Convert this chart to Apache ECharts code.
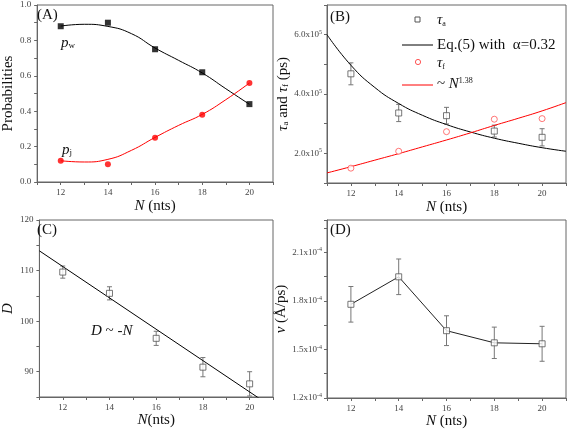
<!DOCTYPE html>
<html><head><meta charset="utf-8">
<script src="https://cdn.jsdelivr.net/npm/echarts@6/dist/echarts.min.js"></script>
<style>html,body{margin:0;padding:0;background:#fff}#c{width:569px;height:435px}</style>
</head><body><div id="c"></div>
<script>
// ---- data ----
const nVals = [12, 14, 16, 18, 20];
// (A)
const pW = [0.88, 0.90, 0.75, 0.62, 0.44];
const pJ = [0.12, 0.10, 0.25, 0.38, 0.56];
const fitN = [12, 13, 14, 15, 16, 17, 18, 19, 20];
const pWFit = [0.881, 0.891, 0.879, 0.838, 0.757, 0.687, 0.616, 0.527, 0.439];
const pJFit = [0.120, 0.113, 0.128, 0.179, 0.252, 0.320, 0.382, 0.465, 0.559];
// (B)
const tauA = [4.68e5, 3.36e5, 3.27e5, 2.75e5, 2.54e5];
const tauAErr = [0.37e5, 0.29e5, 0.28e5, 0.20e5, 0.29e5];
const tauF = [1.50e5, 2.07e5, 2.73e5, 3.15e5, 3.17e5];
const curveN = [11, 12, 13, 14, 15, 16, 17, 18, 19, 20, 21];
const eq5Fit = [6.00e5, 4.97e5, 4.22e5, 3.68e5, 3.28e5, 2.97e5, 2.72e5, 2.51e5, 2.34e5, 2.19e5, 2.07e5];
const powFit = [1.34e5, 1.55e5, 1.77e5, 1.99e5, 2.22e5, 2.45e5, 2.69e5, 2.94e5, 3.18e5, 3.43e5, 3.71e5];
// (C)
const dVals = [109.7, 105.5, 96.6, 90.9, 87.6];
const dErr = [1.2, 1.3, 1.4, 1.9, 2.4];
const dLineN = [11, 21];
const dLine = [113.9, 82.9];
// (D)
const vVals = [1.779e-4, 1.949e-4, 1.616e-4, 1.541e-4, 1.535e-4];
const vErr = [0.11e-4, 0.11e-4, 0.092e-4, 0.097e-4, 0.108e-4];

// ---- chart ----
const SERIF = "'Liberation Serif', 'Times New Roman', serif";
const AX = '#666';
const LBL = '#444';
const TXT = '#111';
const chart = echarts.init(document.getElementById('c'), null, {renderer: 'canvas'});

const grids = [
  {left: 35, top: 5, width: 238, height: 177},
  {left: 327, top: 5, width: 239, height: 178},
  {left: 35, top: 220, width: 238, height: 177},
  {left: 327, top: 220, width: 239, height: 178}
].map(g => Object.assign(g, {show: true, borderColor: AX, borderWidth: 1, backgroundColor: 'transparent'}));

const richBase = {
  i: {fontFamily: SERIF, fontStyle: 'italic', fontSize: 15, color: TXT},
  r: {fontFamily: SERIF, fontSize: 15, color: TXT},
  sub: {fontFamily: SERIF, fontSize: 9, color: TXT, verticalAlign: 'bottom', padding: [6, 0, 0, 0]},
  sup: {fontFamily: SERIF, fontSize: 9, color: TXT, verticalAlign: 'top', padding: [0, 0, 6, 0]}
};
const tickRich = {
  b: {fontFamily: SERIF, fontSize: 9, color: LBL},
  s: {fontFamily: SERIF, fontSize: 6, color: LBL, verticalAlign: 'top', padding: [0, 0, 5, 0]}
};

function xAx(gi, name, gap) {
  return {
    type: 'value', gridIndex: gi, min: 11, max: 21, interval: 1,
    name: name, nameLocation: 'middle', nameGap: gap,
    nameTextStyle: {rich: richBase, fontFamily: SERIF, fontSize: 15, color: TXT},
    axisLine: {show: true, onZero: false, lineStyle: {color: AX}},
    axisTick: {show: true, inside: false, length: 3, lineStyle: {color: AX}},
    splitLine: {show: false},
    axisLabel: {interval: 0, margin: 6, fontFamily: SERIF, fontSize: 9, color: LBL,
      formatter: v => (Math.round(v) % 2 === 0 ? String(Math.round(v)) : '')}
  };
}
function yAx(gi, opts) {
  return Object.assign({
    type: 'value', gridIndex: gi, nameLocation: 'middle', nameRotate: 90,
    nameTextStyle: {rich: richBase, fontFamily: SERIF, fontSize: 15, color: TXT},
    axisLine: {show: true, onZero: false, lineStyle: {color: AX}},
    axisTick: {show: true, inside: false, length: 3, lineStyle: {color: AX}},
    splitLine: {show: false}
  }, opts);
}

const yAxes = [
  yAx(0, {min: 0, max: 1, interval: 0.1, name: '{r|Probabilities}', nameGap: 18,
    axisLabel: {margin: 6, fontFamily: SERIF, fontSize: 9, color: LBL,
      formatter: v => { const k = Math.round(v * 10); return k % 2 === 0 ? (k / 10).toFixed(1) : ''; }}}),
  yAx(1, {min: 1e5, max: 7e5, interval: 1e5, nameGap: 33,
    name: '{i|τ}{sub|a}{r| and }{i|τ}{sub|f}{r| (ps)}',
    axisLabel: {margin: 5, rich: tickRich, formatter: v => { const k = Math.round(v / 1e5); return (k === 2 || k === 4 || k === 6) ? '{b|' + k + '.0x10}{s|5}' : ''; }}}),
  yAx(2, {min: 85, max: 120, interval: 5, name: '{i|D}', nameGap: 20,
    axisLabel: {margin: 6, fontFamily: SERIF, fontSize: 9, color: LBL,
      formatter: v => (Math.round(v) % 10 === 0 ? String(Math.round(v)) : '')}}),
  yAx(3, {min: 1.2e-4, max: 2.3e-4, interval: 0.15e-4, nameGap: 32,
    name: '{i|v}{r| (Å/ps)}',
    axisLabel: {margin: 5, rich: tickRich, formatter: v => {
      const k = Math.round(v / 0.15e-4);
      if (Math.abs(v - k * 0.15e-4) > 1e-7 || k % 2 !== 0) return '';
      return '{b|' + (k * 0.15).toFixed(1) + 'x10}{s|-4}';
    }}})
];

const xAxes = [
  xAx(0, '{i|N}{r| (nts)}', 17),
  xAx(1, '{i|N}{r| (nts)}', 17),
  xAx(2, '{i|N}{r|(nts)}', 16),
  xAx(3, '{i|N}{r| (nts)}', 16)
];

function errBars(gi, xs, ys, es) {
  return {
    type: 'custom', xAxisIndex: gi, yAxisIndex: gi, z: 2, clip: true,
    data: xs.map((x, i) => [x, ys[i], es[i]]),
    renderItem: (p, api) => {
      const x = api.value(0), y = api.value(1), e = api.value(2);
      const t = api.coord([x, y + e]), b = api.coord([x, y - e]);
      const c = 2.5, st = {stroke: '#777', lineWidth: 1};
      return {type: 'group', children: [
        {type: 'line', shape: {x1: t[0], y1: t[1], x2: b[0], y2: b[1]}, style: st},
        {type: 'line', shape: {x1: t[0] - c, y1: t[1], x2: t[0] + c, y2: t[1]}, style: st},
        {type: 'line', shape: {x1: b[0] - c, y1: b[1], x2: b[0] + c, y2: b[1]}, style: st}
      ]};
    }
  };
}
const pairs = (xs, ys) => xs.map((x, i) => [x, ys[i]]);
const hollowSq = (gi, ys, extra) => Object.assign({
  type: 'scatter', xAxisIndex: gi, yAxisIndex: gi, z: 5, symbol: 'rect', symbolSize: 6,
  data: pairs(nVals, ys),
  itemStyle: {color: '#fff', borderColor: '#555', borderWidth: 1}
}, extra || {});

const series = [
  // A
  {type: 'line', xAxisIndex: 0, yAxisIndex: 0, smooth: true, showSymbol: false, symbol: 'none',
    data: pairs(fitN, pWFit), lineStyle: {color: '#000', width: 1}},
  {type: 'line', xAxisIndex: 0, yAxisIndex: 0, smooth: true, showSymbol: false, symbol: 'none',
    data: pairs(fitN, pJFit), lineStyle: {color: '#ff0000', width: 1}},
  {type: 'scatter', xAxisIndex: 0, yAxisIndex: 0, symbol: 'rect', symbolSize: 6, z: 5,
    data: pairs(nVals, pW), itemStyle: {color: '#000'}},
  {type: 'scatter', xAxisIndex: 0, yAxisIndex: 0, symbol: 'circle', symbolSize: 6, z: 5,
    data: pairs(nVals, pJ), itemStyle: {color: '#ff0000'}},
  // B
  {type: 'line', xAxisIndex: 1, yAxisIndex: 1, smooth: true, symbol: 'none',
    data: pairs(curveN, eq5Fit), lineStyle: {color: '#000', width: 1}},
  {type: 'line', xAxisIndex: 1, yAxisIndex: 1, smooth: true, symbol: 'none',
    data: pairs(curveN, powFit), lineStyle: {color: '#ff0000', width: 1}},
  errBars(1, nVals, tauA, tauAErr),
  hollowSq(1, tauA),
  {type: 'scatter', xAxisIndex: 1, yAxisIndex: 1, symbol: 'circle', symbolSize: 6, z: 5,
    data: pairs(nVals, tauF), itemStyle: {color: '#fff', borderColor: '#f55', borderWidth: 1}},
  // C
  {type: 'line', xAxisIndex: 2, yAxisIndex: 2, symbol: 'none', clip: true,
    data: pairs(dLineN, dLine), lineStyle: {color: '#000', width: 1}},
  errBars(2, nVals, dVals, dErr),
  hollowSq(2, dVals),
  // D
  {type: 'line', xAxisIndex: 3, yAxisIndex: 3, symbol: 'none',
    data: pairs(nVals, vVals), lineStyle: {color: '#222', width: 1}},
  errBars(3, nVals, vVals, vErr),
  hollowSq(3, vVals)
];

function txt(x, y, text, rich, extra) {
  return Object.assign({type: 'text', x: x, y: y, z: 100,
    style: {text: text, rich: rich || richBase, fontFamily: SERIF, fontSize: 15, fill: TXT,
      verticalAlign: 'middle', align: 'left'}}, extra || {});
}
const legRich = {
  i: {fontFamily: SERIF, fontStyle: 'italic', fontSize: 15, color: TXT},
  r: {fontFamily: SERIF, fontSize: 15, color: TXT},
  sub: {fontFamily: SERIF, fontSize: 8, color: TXT, verticalAlign: 'bottom', padding: [6, 0, 0, 0]},
  sup: {fontFamily: SERIF, fontSize: 8, color: TXT, verticalAlign: 'top', padding: [0, 0, 6, 0]}
};

const graphic = [
  txt(37, 15, '{r|(A)}'),
  txt(330, 17, '{r|(B)}'),
  txt(37, 230, '{r|(C)}'),
  txt(330, 230, '{r|(D)}'),
  txt(61, 43, '{i|p}{sub|w}'),
  txt(62, 150, '{i|p}{sub|j}'),
  txt(91, 331, '{i|D}{r| ~ -}{i|N}'),
  // legend (B)
  {type: 'rect', shape: {x: 415, y: 17, width: 5, height: 5}, style: {fill: '#fff', stroke: '#555', lineWidth: 1}, z: 100},
  txt(437, 20, '{i|τ}{sub|a}', legRich),
  {type: 'line', shape: {x1: 402, y1: 45, x2: 433, y2: 45}, style: {stroke: '#000', lineWidth: 1}, z: 100},
  txt(437, 45, '{r|Eq.(5) with  α=0.32}', legRich),
  {type: 'circle', shape: {cx: 418, cy: 62, r: 2.6}, style: {fill: '#fff', stroke: '#f55', lineWidth: 1}, z: 100},
  txt(437, 63, '{i|τ}{sub|f}', legRich),
  {type: 'line', shape: {x1: 402, y1: 85, x2: 433, y2: 85}, style: {stroke: '#ff0000', lineWidth: 1}, z: 100},
  txt(437, 84, '{r|~ }{i|N}{sup|1.38}', legRich)
];

chart.setOption({
  animation: false,
  backgroundColor: '#fff',
  grid: grids,
  xAxis: xAxes,
  yAxis: yAxes,
  series: series,
  graphic: graphic
});
</script>
</body></html>
